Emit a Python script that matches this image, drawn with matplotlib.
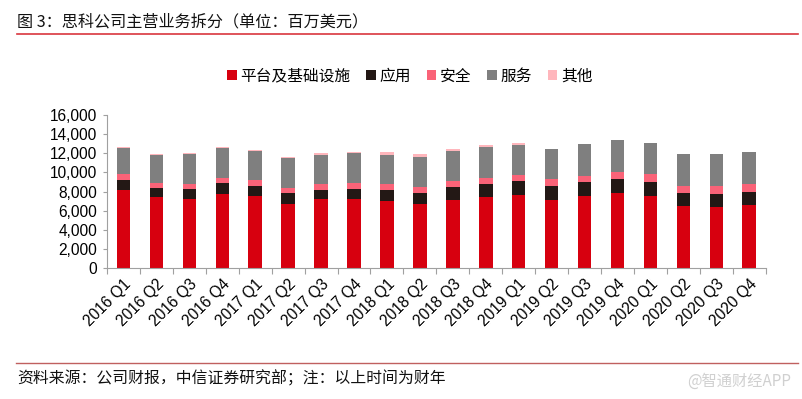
import matplotlib
matplotlib.use("Agg")
import matplotlib.pyplot as plt
import numpy as np
from matplotlib.lines import Line2D
from matplotlib.patches import Patch

categories = ["2016 Q1", "2016 Q2", "2016 Q3", "2016 Q4",
              "2017 Q1", "2017 Q2", "2017 Q3", "2017 Q4",
              "2018 Q1", "2018 Q2", "2018 Q3", "2018 Q4",
              "2019 Q1", "2019 Q2", "2019 Q3", "2019 Q4",
              "2020 Q1", "2020 Q2", "2020 Q3", "2020 Q4"]
infra = [8200, 7430, 7260, 7780, 7530, 6730, 7180, 7180, 6970, 6730,
         7150, 7470, 7640, 7150, 7570, 7880, 7570, 6520, 6420, 6630]
apps = [970, 970, 970, 1080, 1010, 1080, 1020, 1080, 1150, 1080,
        1290, 1280, 1430, 1390, 1390, 1430, 1460, 1290, 1320, 1290]
security = [630, 530, 560, 590, 630, 600, 550, 630, 630, 630,
            630, 630, 700, 740, 700, 770, 840, 800, 840, 900]
services = [2750, 2930, 3130, 3100, 3100, 3090, 3110, 3110, 3110, 3140,
            3130, 3240, 3130, 3170, 3280, 3310, 3240, 3350, 3380, 3310]
other = [150, 60, 80, 90, 80, 80, 140, 130, 280, 310,
         280, 240, 170, 0, 0, 0, 0, 0, 0, 0]
series_names = ["平台及基础设施", "应用", "安全", "服务", "其他"]
colors = ["#D7000F", "#231815", "#FA6378", "#7F7F7F", "#FFB6BC"]
yticks = [0, 2000, 4000, 6000, 8000, 10000, 12000, 14000, 16000]

CJK = ["Noto Sans CJK SC", "DejaVu Sans"]
LAT = ["Liberation Sans", "Noto Sans CJK SC"]

fig = plt.figure(figsize=(8.03, 3.99), dpi=100)
ax = fig.add_axes([107/803, 1-268/399, (765.7-107)/803, (268-115)/399])

x = np.arange(len(categories))
bottom = np.zeros(len(categories))
for vals, c in zip([infra, apps, security, services, other], colors):
    ax.bar(x, vals, width=0.41, bottom=bottom, color=c, linewidth=0)
    bottom += np.array(vals)

ax.set_xlim(-0.5, len(categories) - 0.5)
ax.set_ylim(0, 16000)
ax.set_yticks(yticks)
ax.set_yticklabels([f"{v:,}" for v in yticks], family=LAT, fontsize=11.2)
ax.set_xticks(x)
ax.set_xticklabels(categories, rotation=45, ha="right", va="top",
                   rotation_mode="anchor", family=LAT, fontsize=11.2)
ax.set_xticks(np.arange(len(categories) + 1) - 0.5, minor=True)
ax.tick_params(axis="x", which="major", length=0, pad=6)
ax.tick_params(axis="x", which="minor", length=4, color="#A0A0A0", width=0.8)
ax.tick_params(axis="y", length=3, color="#A0A0A0", width=0.8, pad=4)
for s in ["top", "right"]:
    ax.spines[s].set_visible(False)
for s in ["left", "bottom"]:
    ax.spines[s].set_color("#A0A0A0")
    ax.spines[s].set_linewidth(0.8)

# legend
handles = [Patch(facecolor=c, edgecolor="none") for c in colors]
leg = fig.legend(handles, series_names, loc="center", bbox_to_anchor=(410/803, 1-76/399),
                 ncol=5, frameon=False, handlelength=0.6, handleheight=0.6,
                 handletextpad=0.25, columnspacing=1.0,
                 prop={"family": CJK, "size": 11.3})

# title and lines
fig.text(17/803, 1-22/399, "图 3：思科公司主营业务拆分（单位：百万美元）",
         family=CJK, fontsize=11.6, va="center", ha="left", color="#111111")
fig.add_artist(Line2D([17/803, 798/803], [1-34/399, 1-34/399], color="#D9363E", lw=1.2))
fig.add_artist(Line2D([16/803, 798/803], [1-363/399, 1-363/399], color="#C0605F", lw=1.0))
fig.text(17/803, 1-379/399, "资料来源：公司财报，中信证券研究部；注：以上时间为财年",
         family=CJK, fontsize=11.4, va="center", ha="left", color="#111111")
fig.text(739/803, 1-381/399, "@智通财经APP", family=CJK, fontsize=11,
         va="center", ha="center", color="#D0D0D0")

fig.savefig("out.png", dpi=100, facecolor="white")
